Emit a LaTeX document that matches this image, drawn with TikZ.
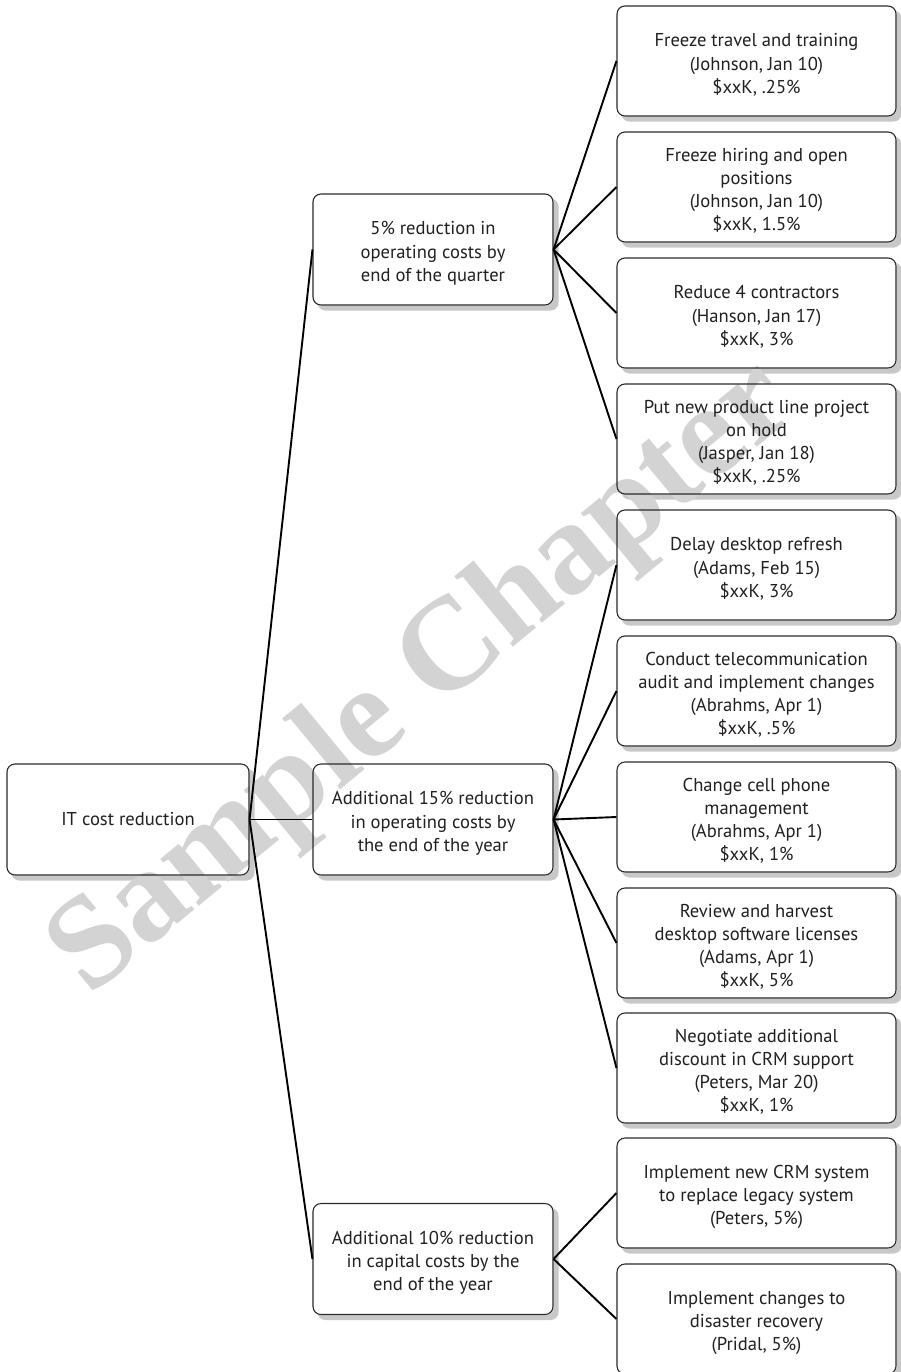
\documentclass[tikz,border=0pt]{standalone}
\usepackage{fontspec}
\setmainfont{PT Sans}
\newfontfamily\wmfont{Liberation Serif}
\usetikzlibrary{backgrounds}
\definecolor{boxline}{HTML}{2A2A2A}
\definecolor{textcol}{HTML}{231F20}
\definecolor{shadowcol}{HTML}{C8C8C8}
\definecolor{wmcol}{HTML}{D3D3D3}
% taller first line, so that the block of lines sits a little lower in its box
\newcommand\toplift{\rule{0pt}{21pt}}
\begin{document}
\begin{tikzpicture}[x=1pt,y=-1pt,
  box/.style={draw=boxline, line width=1.1pt, rounded corners=8pt, align=center,
    font=\fontsize{18.6}{23.2}\selectfont, text=textcol, inner sep=0pt},
  leaf/.style={box, minimum width=279pt, minimum height=110pt},
  midbox/.style={box, minimum width=240pt, minimum height=111pt},
  link/.style={line width=1.9pt, draw=black},
  watermark/.style={text=wmcol, rotate=39.5, inner sep=0pt,
    font=\wmfont\bfseries\fontsize{132}{132}\selectfont}]
\useasboundingbox (0,0) rectangle (900,1372);

% root and the three goals
\node[box, minimum width=242pt, minimum height=111pt] (root) at (128,819.5) {IT cost reduction};
\node[midbox] (gA) at (433,249.5) {\toplift 5\% reduction in\\operating costs by\\end of the quarter};
\node[midbox] (gB) at (433,819.5) {\toplift Additional 15\% reduction\\in operating costs by\\the end of the year};
\node[midbox] (gC) at (433,1259) {\toplift Additional 10\% reduction\\in capital costs by the\\end of the year};

% actions
\node[leaf] (l1) at (756.5,61) {\toplift Freeze travel and training\\(Johnson, Jan 10)\\\$xxK, .25\%};
\node[leaf] (l2) at (756.5,187) {\toplift Freeze hiring and open\\positions\\(Johnson, Jan 10)\\\$xxK, 1.5\%};
\node[leaf] (l3) at (756.5,313) {\toplift Reduce 4 contractors\\(Hanson, Jan 17)\\\$xxK, 3\%};
\node[leaf] (l4) at (756.5,439) {\toplift Put new product line project\\on hold\\(Jasper, Jan 18)\\\$xxK, .25\%};
\node[leaf] (l5) at (756.5,565) {\toplift Delay desktop refresh\\(Adams, Feb 15)\\\$xxK, 3\%};
\node[leaf] (l6) at (756.5,691) {\toplift Conduct telecommunication\\audit and implement changes\\(Abrahms, Apr 1)\\\$xxK, .5\%};
\node[leaf] (l7) at (756.5,817) {\toplift Change cell phone\\management\\(Abrahms, Apr 1)\\\$xxK, 1\%};
\node[leaf] (l8) at (756.5,943) {\toplift Review and harvest\\desktop software licenses\\(Adams, Apr 1)\\\$xxK, 5\%};
\node[leaf] (l9) at (756.5,1068) {\toplift Negotiate additional\\discount in CRM support\\(Peters, Mar 20)\\\$xxK, 1\%};
\node[leaf] (l10) at (756.5,1193) {\toplift Implement new CRM system\\to replace legacy system\\(Peters, 5\%)};
\node[leaf] (l11) at (756.5,1319) {\toplift Implement changes to\\disaster recovery\\(Pridal, 5\%)};

% shadows, white fills and the watermark sit underneath
\begin{scope}[on background layer]
  \foreach \n in {root,gA,gB,gC,l1,l2,l3,l4,l5,l6,l7,l8,l9,l10,l11}
    \fill[shadowcol, rounded corners=8pt]
      ([shift={(5,5)}]\n.south west) rectangle ([shift={(5,5)}]\n.north east);
  \foreach \n in {root,gA,gB,gC,l1,l2,l3,l4,l5,l6,l7,l8,l9,l10,l11}
    \fill[white, rounded corners=8pt] (\n.south west) rectangle (\n.north east);
  \node[watermark] (wm) at (424,680) {Sample Chapter};
\end{scope}

% connectors
\foreach \g in {gA,gB,gC}
  \draw[link] (root.east) -- (\g.west);
\foreach \l in {l1,l2,l3,l4}
  \draw[link] (gA.east) -- (\l.west);
\foreach \l in {l5,l6,l7,l8,l9}
  \draw[link] (gB.east) -- (\l.west);
\foreach \l in {l10,l11}
  \draw[link] (gC.east) -- (\l.west);
\end{tikzpicture}
\end{document}
